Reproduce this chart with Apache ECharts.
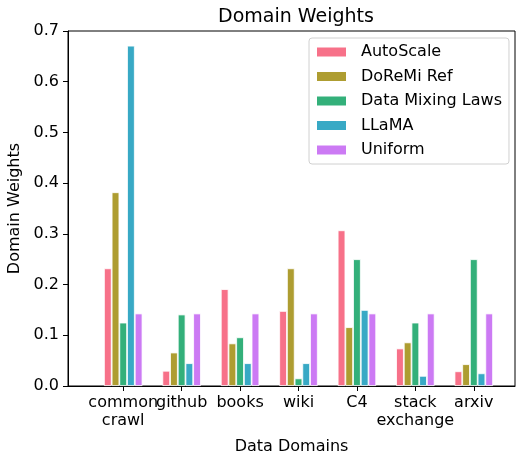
<!DOCTYPE html>
<html>
<head>
<meta charset="utf-8">
<script src="https://cdn.jsdelivr.net/npm/echarts@6/dist/echarts.min.js"></script>
<style>html,body{margin:0;padding:0;background:#fff}#c{width:516px;height:456px}</style>
</head>
<body>
<div id="c"></div>
<script>
const categories = ['common\ncrawl', 'github', 'books', 'wiki', 'C4', 'stack\nexchange', 'arxiv'];
const autoScale = [0.232, 0.030, 0.191, 0.148, 0.307, 0.074, 0.029];
const doremiRef = [0.382, 0.066, 0.084, 0.232, 0.116, 0.086, 0.043];
const dataMixingLaws = [0.125, 0.141, 0.096, 0.015, 0.250, 0.125, 0.250];
const llama = [0.671, 0.045, 0.045, 0.045, 0.150, 0.020, 0.025];
const uniform = [0.143, 0.143, 0.143, 0.143, 0.143, 0.143, 0.143];
const seriesNames = ['AutoScale', 'DoReMi Ref', 'Data Mixing Laws', 'LLaMA', 'Uniform'];
const yTicks = [0, 0.1, 0.2, 0.3, 0.4, 0.5, 0.6, 0.7];

const colors = ['#f77189', '#ae9d31', '#33b07a', '#38a9c5', '#cc7af4'];
const seriesData = [autoScale, doremiRef, dataMixingLaws, llama, uniform];
const font = 'DejaVu Sans';
const fs = 16;

const chart = echarts.init(document.getElementById('c'), null, {renderer: 'canvas'});
chart.setOption({
  animation: false,
  color: colors,
  textStyle: {fontFamily: font},
  title: {
    text: 'Domain Weights',
    left: 291, top: 3, textAlign: 'center',
    textStyle: {fontFamily: font, fontSize: 19, fontWeight: 'normal', color: '#000'}
  },
  legend: {
    orient: 'vertical',
    left: 309, top: 38,
    data: seriesNames,
    itemWidth: 31, itemHeight: 11, itemGap: 8.5,
    padding: [6, 7, 6, 6],
    borderColor: '#d0d0d0', borderWidth: 1, borderRadius: 3,
    icon: 'rect',
    textStyle: {fontFamily: font, fontSize: fs, color: '#000', padding: [0, 0, 0, 9]}
  },
  grid: [
    {left: 68, right: 1, top: 31, bottom: 70, show: true, borderColor: '#000', borderWidth: 1, backgroundColor: 'transparent', containLabel: false, outerBoundsMode: 'none'},
    {left: 94, right: 13, top: 31, bottom: 70, containLabel: false, outerBoundsMode: 'none'}
  ],
  xAxis: [
    {
      gridIndex: 0, type: 'value', min: 0, max: 1,
      axisLine: {show: true, lineStyle: {color: '#000', width: 1}},
      axisTick: {show: false}, axisLabel: {show: false}, splitLine: {show: false},
      name: 'Data Domains', nameLocation: 'middle', nameGap: 53,
      nameTextStyle: {fontFamily: font, fontSize: fs, color: '#000'}
    },
    {
      gridIndex: 1, type: 'category', data: categories,
      axisLine: {show: false},
      axisTick: {show: true, alignWithLabel: true, length: 5, lineStyle: {color: '#000', width: 1}},
      axisLabel: {fontFamily: font, fontSize: fs, color: '#000', margin: 8, lineHeight: 18, interval: 0}
    }
  ],
  yAxis: [
    {
      gridIndex: 0, type: 'value', min: 0, max: 0.7, interval: 0.1,
      axisLine: {show: true, lineStyle: {color: '#000', width: 1}},
      axisTick: {show: true, length: 5, lineStyle: {color: '#000', width: 1}},
      axisLabel: {fontFamily: font, fontSize: fs, color: '#000', margin: 9, formatter: v => v.toFixed(1)},
      splitLine: {show: false},
      name: 'Domain Weights', nameLocation: 'middle', nameGap: 44, nameRotate: 90,
      nameTextStyle: {fontFamily: font, fontSize: fs, color: '#000'}
    },
    {
      gridIndex: 1, type: 'value', min: 0, max: 0.7, show: false
    }
  ],
  series: seriesNames.map((n, i) => ({
    name: n, type: 'bar', xAxisIndex: 1, yAxisIndex: 1,
    data: seriesData[i],
    barWidth: 7.7, barGap: '0%',
    itemStyle: {color: colors[i], borderColor: '#fff', borderWidth: 0.8}
  }))
});
</script>
</body>
</html>
